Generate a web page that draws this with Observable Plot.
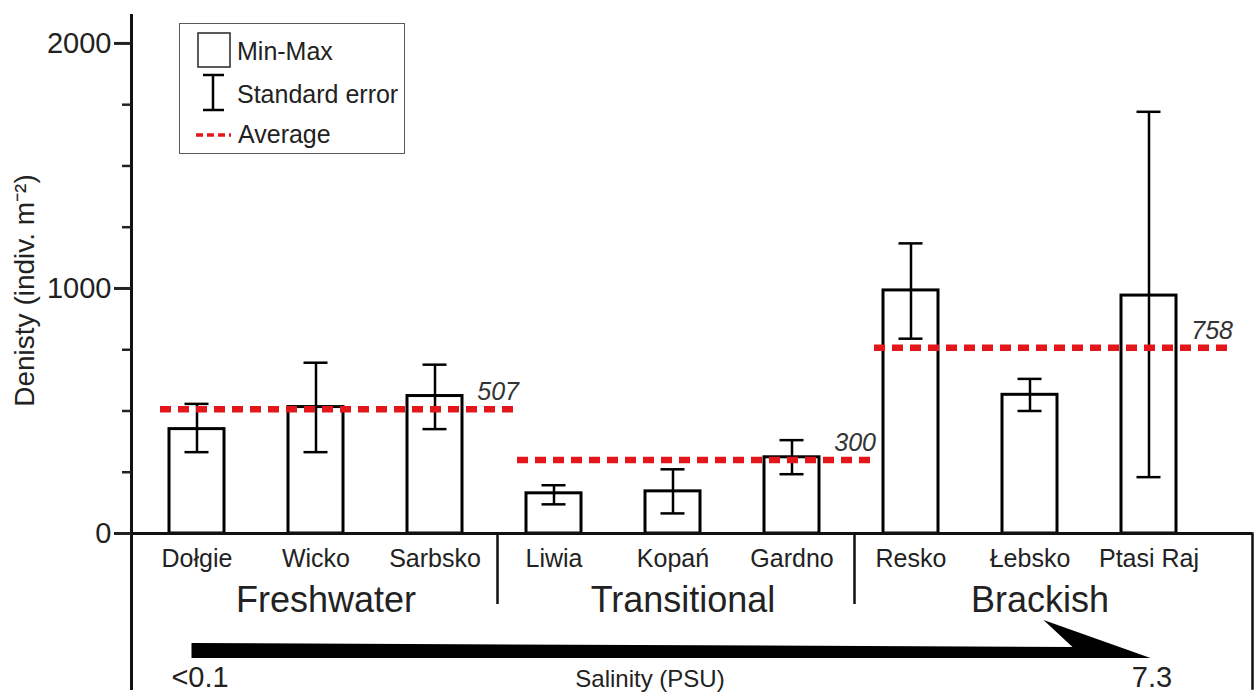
<!DOCTYPE html>
<html><head><meta charset="utf-8">
<script src="https://cdn.jsdelivr.net/npm/d3@7"></script>
<script src="https://cdn.jsdelivr.net/npm/@observablehq/plot@0.6"></script>
<style>
html,body{margin:0;padding:0;background:#fff;}
#wrap{position:relative;width:1256px;height:697px;font-family:"Liberation Sans",Arial,Helvetica,sans-serif;}
#legend{position:absolute;left:179px;top:23px;width:224px;height:129px;border:1.5px solid #5a5a5a;background:#fff;}
#legend svg{display:block;}
</style></head>
<body>
<div id="wrap">
  <div id="legend">
    <svg width="224" height="129" font-family="Liberation Sans, Arial, sans-serif" fill="#222">
      <rect x="18" y="9" width="32" height="34" fill="none" stroke="#333" stroke-width="1.6"/>
      <text x="57" y="27" dy="0.35em" font-size="25">Min-Max</text>
      <line x1="33" y1="51" x2="33" y2="86" stroke="#000" stroke-width="2.5"/>
      <line x1="23" y1="51" x2="44" y2="51" stroke="#000" stroke-width="2.5"/>
      <line x1="23" y1="86" x2="44" y2="86" stroke="#000" stroke-width="2.5"/>
      <text x="57" y="70" dy="0.35em" font-size="25">Standard error</text>
      <line x1="16" y1="111" x2="51" y2="111" stroke="#e3161b" stroke-width="3.5" stroke-dasharray="7,4"/>
      <text x="58" y="110" dy="0.35em" font-size="25">Average</text>
    </svg>
  </div>
</div>
<script>
// ---- data ----
const categories = ["Dołgie","Wicko","Sarbsko","Liwia","Kopań","Gardno","Resko","Łebsko","Ptasi Raj"];
const maxValues  = [426, 516, 561, 164, 172, 311, 992, 566, 971];
const seLow      = [332, 332, 426, 119, 82, 242, 795, 500, 230];
const seHigh     = [529, 697, 689, 197, 262, 381, 1184, 631, 1721];
const groupNames   = ["Freshwater","Transitional","Brackish"];
const groupFirst   = ["Dołgie","Liwia","Resko"];
const groupMiddle  = ["Wicko","Kopań","Łebsko"];
const groupLast    = ["Sarbsko","Gardno","Ptasi Raj"];
const groupAverage = [507, 300, 758];
const dividersAfter = ["Sarbsko","Gardno"];
const salinityLabels = ["<0.1","7.3"];
const salinityTitle = "Salinity (PSU)";
const yTicks = [0, 1000, 2000];
const yMinorTicks = [250, 500, 750, 1250, 1500, 1750];
const yLabel = "Denisty (indiv. m⁻²)";

// ---- layout ----
const W = 1256, H = 697, mT = 15, mB = 164, mL = 131, mR = 4;
const xRange = [137, 1208];
const step = (xRange[1] - xRange[0]) / categories.length;
const plotH = H - mT - mB;
const idx = d3.range(categories.length);
const gidx = d3.range(groupNames.length);
const red = "#e3161b";
const ink = "#222";

const chart = Plot.plot({
  width: W, height: H,
  marginTop: mT, marginBottom: mB, marginLeft: mL, marginRight: mR,
  style: {fontFamily: "'Liberation Sans', Arial, Helvetica, sans-serif", background: "white", color: ink, overflow: "visible"},
  x: {domain: categories, range: xRange, paddingInner: 0.537, paddingOuter: 0.2685, axis: null},
  y: {domain: [0, 2114]},
  marks: [
    // frame lines
    Plot.frame({anchor: "left", insetBottom: -155, stroke: "#111", strokeWidth: 3}),
    Plot.frame({anchor: "right", insetTop: plotH, insetBottom: -155, stroke: "#111", strokeWidth: 2.5}),
    Plot.ruleX(dividersAfter, {x: d => d, y1: 0, y2: 0, insetBottom: -71, dx: step / 2 + 3, stroke: "#111", strokeWidth: 2.5}),
    // axes
    Plot.axisY({ticks: yTicks, tickSize: 17, tickPadding: 3, tickFormat: d => String(d), fontSize: 29, strokeWidth: 3, label: null, color: ink}),
    Plot.axisY({ticks: yMinorTicks, tickSize: 9, tickFormat: () => "", strokeWidth: 2.5, label: null, color: ink}),
    Plot.text([yLabel], {frameAnchor: "left", textAnchor: "middle", rotate: -90, dx: -106, dy: 16, fontSize: 28, fill: ink}),
    // bars (min-max)
    Plot.barY(idx, {x: i => categories[i], y1: 0, y2: i => maxValues[i], fill: "white", stroke: "#000", strokeWidth: 3}),
    // standard error
    Plot.ruleX(idx, {x: i => categories[i], y1: i => seLow[i], y2: i => seHigh[i], stroke: "#000", strokeWidth: 2.5}),
    Plot.tickY(idx, {x: i => categories[i], y: i => seLow[i], insetLeft: 15.5, insetRight: 15.5, stroke: "#000", strokeWidth: 2.5}),
    Plot.tickY(idx, {x: i => categories[i], y: i => seHigh[i], insetLeft: 15.5, insetRight: 15.5, stroke: "#000", strokeWidth: 2.5}),
    // baseline
    Plot.ruleY([0], {stroke: "#111", strokeWidth: 3}),
    // group averages
    Plot.ruleY(gidx, {x1: i => groupFirst[i], x2: i => groupLast[i], y: i => groupAverage[i], insetLeft: -9, insetRight: -55, stroke: red, strokeWidth: 6.5, strokeDasharray: "11,7"}),
    Plot.text(gidx, {x: i => groupLast[i], y: i => groupAverage[i], text: i => String(groupAverage[i]), textAnchor: "end", dx: 84, dy: -17, fontSize: 25, fontStyle: "italic", fill: "#333"}),
    // category & group labels
    Plot.text(idx, {x: i => categories[i], text: i => categories[i], frameAnchor: "bottom", lineAnchor: "middle", dy: 25, fontSize: 25, fill: ink}),
    Plot.text(gidx, {x: i => groupMiddle[i], text: i => groupNames[i], frameAnchor: "bottom", lineAnchor: "middle", dy: 67, dx: 10, fontSize: 36, fill: ink}),
    // salinity labels
    Plot.text([0, 1], {x: i => i === 0 ? categories[0] : categories[categories.length - 1], text: i => salinityLabels[i], frameAnchor: "bottom", lineAnchor: "middle", dy: 144, dx: 3, fontSize: 29, fill: ink}),
    Plot.text([salinityTitle], {frameAnchor: "bottom", lineAnchor: "middle", dy: 146, dx: -42, fontSize: 24, fill: ink})
  ]
});

// salinity gradient arrow, placed with the chart's own scales
const xs = chart.scale("x"), ys = chart.scale("y");
const cx = c => xs.apply(c) + xs.bandwidth / 2;
const L = cx(categories[0]) - 5, T = cx(categories[categories.length - 1]) + 2, B = ys.apply(0) + 125;
d3.select(chart).append("path")
  .attr("d", `M${L},${B - 15}L${T - 78},${B - 11}L${T - 107},${B - 38}L${T},${B}L${L},${B}Z`)
  .attr("fill", "#000");

const wrap = document.getElementById("wrap");
wrap.insertBefore(chart, wrap.firstChild);
chart.style.position = "absolute";
chart.style.left = "0px";
chart.style.top = "0px";
</script>
</body></html>
